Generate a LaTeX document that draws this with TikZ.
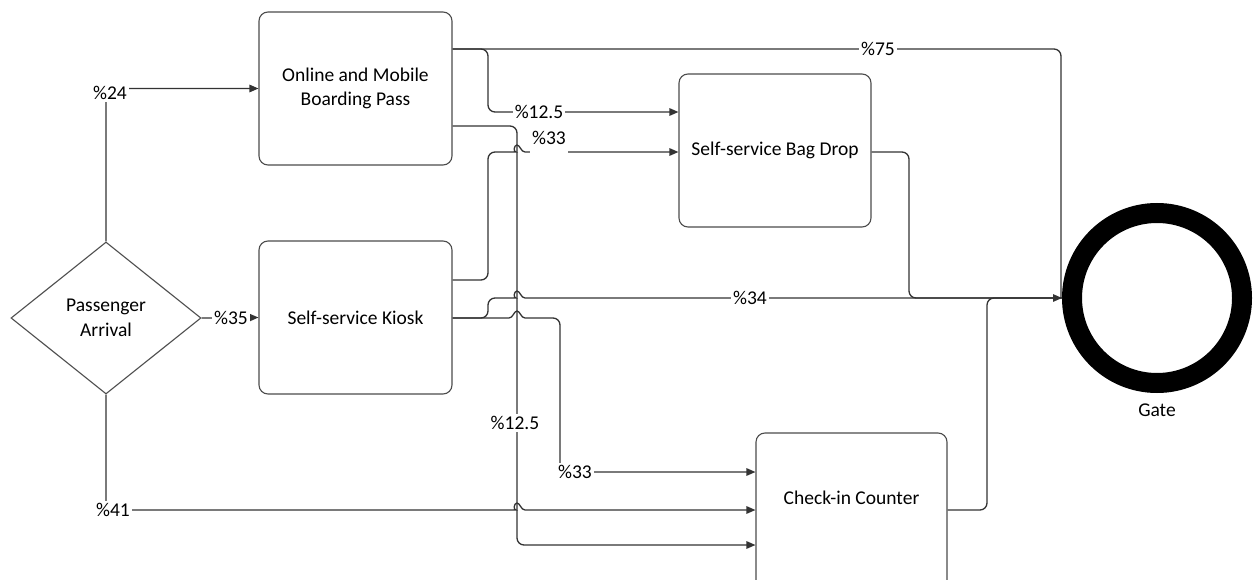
\documentclass[tikz,border=0pt]{standalone}
\usepackage{fontspec}
\setmainfont{Carlito}
\usetikzlibrary{arrows.meta,shapes.geometric,calc}
\begin{document}
\begin{tikzpicture}[x=1pt,y=-1pt,
  font=\fontsize{19.5}{24.5}\selectfont,
  box/.style={draw=black!70, line width=1.1pt, rounded corners=9pt, minimum width=193pt, minimum height=153pt, align=center, inner sep=0pt},
  conn/.style={draw=black!80, line width=1.3pt, rounded corners=7pt},
  arr/.style={conn, -{Triangle[length=9pt,width=7.5pt]}},
  lab/.style={fill=white, inner sep=2pt},
]
\useasboundingbox (0,0) rectangle (1253,580);

% nodes
\node[draw=black!70, line width=1.1pt, diamond, minimum width=190pt, minimum height=152pt, align=center, inner sep=0pt] (pa) at (106,318) {Passenger\\Arrival};
\node[box] (online) at (355.5,88.5) {Online and Mobile\\Boarding Pass};
\node[box] (kiosk) at (355.5,317.5) {Self-service Kiosk};
\node[box, minimum width=192pt] (bag) at (775,150.5) {Self-service Bag Drop};
\node[box, minimum width=191pt, minimum height=160pt] (checkin) at (851.5,513) {};
\node (checkintext) at (851.5,498) {Check-in Counter};
\node[circle, draw=black, line width=20pt, minimum size=170pt, inner sep=0pt] (gate) at (1157,298) {};
\node (gatelabel) at (1157,410) {Gate};

% connectors
\draw[arr] (pa.north) |- (online.west);
\draw[arr] (pa.east) -- (kiosk.west);
\draw[arr] (pa.south) |- (509,510) [sharp corners] .. controls (513,510) and (514,503) .. (517,503) .. controls (520,503) and (521,510) .. (525,510) -- (checkin.west |- 0,510);

\draw[conn] (online.east |- 0,49) -| ($(gate.west)+(-1,0)$);
\draw[arr] (online.east |- 0,49) -- (488,49) -- (488,112) -- (bag.west |- 0,112);
\draw[arr] (online.east |- 0,126) -- (517,126) -- (517,545) -- (checkin.west |- 0,545);

\draw[arr] (kiosk.east |- 0,280) -- (488,280) -- (488,152) -- (509,152) [sharp corners] .. controls (513,152) and (514,145) .. (517,145) .. controls (520,145) and (521,152) .. (525,152) -- (bag.west |- 0,152);
\draw[arr] (kiosk.east |- 0,318) -- (488,318) -- (488,298) -- (509,298) [sharp corners] .. controls (513,298) and (514,291) .. (517,291) .. controls (520,291) and (521,298) .. (525,298) -- (gate.west);
\draw[arr] (kiosk.east |- 0,318) [sharp corners] -- (509,318) .. controls (513,318) and (514,311) .. (517,311) .. controls (520,311) and (521,318) .. (525,318) [rounded corners=7pt] -- (560,318) -- (560,472) -- (checkin.west |- 0,472);

\draw[conn] (bag.east |- 0,152) -| (909,298) -- (gate.west);
\draw[conn] (checkin.east |- 0,510) -| (987,298) -- (gate.west);

% labels
\node[lab] (l24) at (110,93) {\%24};
\node[lab] (l35) at (231,318) {\%35};
\node[lab] (l41) at (113,510) {\%41};
\node[lab] (l75) at (878,49) {\%75};
\node[lab] (l125a) at (539,112) {\%12.5};
\node[lab, anchor=base, text depth=9pt] (l33a) at (549,145) {\%33};
\node[lab] (l34) at (750,298) {\%34};
\node[lab] (l125b) at (515,423) {\%12.5};
\node[lab] (l33b) at (575,472) {\%33};
\end{tikzpicture}
\end{document}
